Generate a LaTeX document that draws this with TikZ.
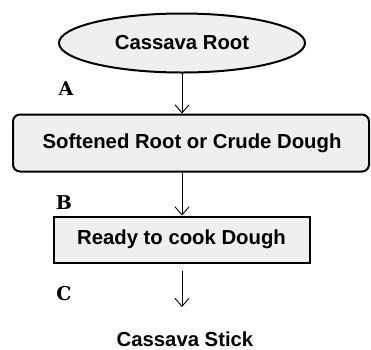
\documentclass[tikz,border=0pt]{standalone}
\usepackage{fontspec}
\setsansfont{Liberation Sans}
\newfontfamily\tagfont{DejaVu Serif}
\usetikzlibrary{shapes.geometric,arrows.meta}
\definecolor{boxfill}{HTML}{EFEFEF}
\tikzset{
  lbl/.style={font=\sffamily\bfseries\fontsize{20.3}{22}\selectfont, inner sep=0pt},
  tag/.style={font=\tagfont\bfseries\fontsize{19}{21}\selectfont, inner sep=0pt},
  conn/.style={line width=0.9pt, -{Straight Barb[length=8pt,width=14pt]}},
  stepbg/.style={draw, line width=2pt, fill=boxfill, inner sep=0pt}
}
\begin{document}
\begin{tikzpicture}[x=1pt,y=1pt]
\useasboundingbox (0,0) rectangle (371,-349);
\node[stepbg, ellipse, minimum width=246pt, minimum height=59pt] (root) at (182,-43) {};
\node[lbl] at (root.center) {Cassava Root};
\node[stepbg, rectangle, rounded corners=7pt, minimum width=356pt, minimum height=57pt] (soft) at (191,-143) {};
\node[lbl] at (192,-143) {Softened Root or Crude Dough};
\node[stepbg, rectangle, minimum width=256pt, minimum height=46pt] (ready) at (181.5,-239.5) {};
\node[lbl] at (181.5,-239.5) {Ready to cook Dough};
\node[lbl] (stick) at (185,-339) {Cassava Stick};
\node[tag] (ta) at (66,-89) {A};
\node[tag] (tb) at (64,-202.5) {B};
\node[tag] (tc) at (64,-293.5) {C};
\coordinate (c3) at (182,-307);
\draw[conn] (182,-73) coordinate (s1) -- (soft.north -| s1);
\draw[conn] (soft.south -| s1) -- (ready.north -| s1);
\draw[conn, shorten <=7pt] (ready.south -| s1) -- (c3);
\end{tikzpicture}
\end{document}
